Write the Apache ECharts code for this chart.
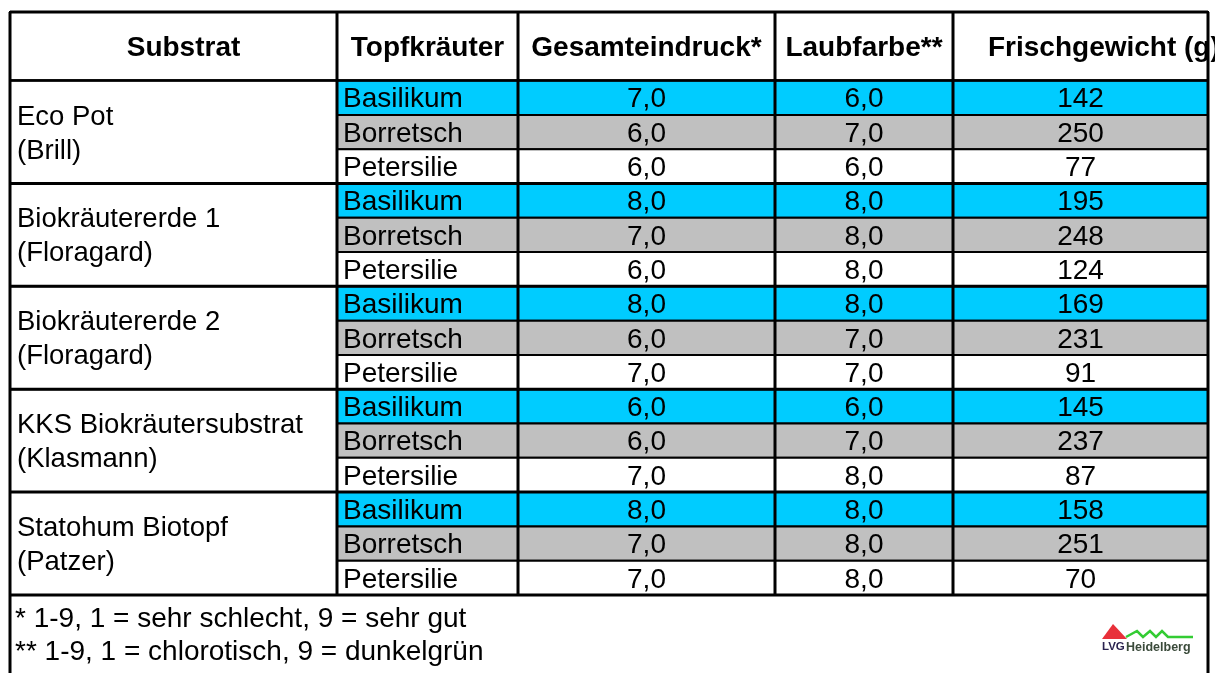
<!DOCTYPE html>
<html>
<head>
<meta charset="utf-8">
<script src="https://cdn.jsdelivr.net/npm/echarts@6/dist/echarts.min.js"></script>
<style>
html, body { margin: 0; padding: 0; background: #fff; }
#main { width: 1215px; height: 673px; }
</style>
</head>
<body>
<div id="main"></div>
<script>
// Tabellendaten
var headers = ['Substrat', 'Topfkräuter', 'Gesamteindruck*', 'Laubfarbe**', 'Frischgewicht (g)'];
var substrates = ['Eco Pot\n(Brill)', 'Biokräutererde 1\n(Floragard)', 'Biokräutererde 2\n(Floragard)', 'KKS Biokräutersubstrat\n(Klasmann)', 'Statohum Biotopf\n(Patzer)'];
var herbs = ['Basilikum', 'Borretsch', 'Petersilie'];
var gesamteindruck = [7, 6, 6, 8, 7, 6, 8, 6, 7, 6, 6, 7, 8, 7, 7];
var laubfarbe = [6, 7, 6, 8, 8, 8, 8, 7, 7, 6, 7, 8, 8, 8, 8];
var frischgewicht = [142, 250, 77, 195, 248, 124, 169, 231, 91, 145, 237, 87, 158, 251, 70];
var footnotes = ['* 1-9, 1 = sehr schlecht, 9 = sehr gut', '** 1-9, 1 = chlorotisch, 9 = dunkelgrün'];

// Layout
var COL_EDGES = [0, 327, 508, 765, 943, 1198];
var HEAD_SHIFT = [10, 0, 0, 0, 0];
var HEAD_ROWS = 2;
var TOTAL_ROWS = 17;
var FOOT_ROWS = [17.72, 18.68];
var ROW_FILL = ['#00CCFF', '#C0C0C0', '#FFFFFF'];
var FONT = '"Liberation Sans", Arial, sans-serif';

function fmt(v) {
    return v.toFixed(1).replace('.', ',');
}

// Zellen aufbauen
var cells = [];
headers.forEach(function (h, c) {
    cells.push({c: c, r: 0, span: HEAD_ROWS, text: h, type: 'head'});
});
substrates.forEach(function (s, g) {
    cells.push({c: 0, r: HEAD_ROWS + g * 3, span: 3, text: s, type: 'sub'});
});
gesamteindruck.forEach(function (v, i) {
    var r = HEAD_ROWS + i;
    var herb = i % 3;
    cells.push({c: 1, r: r, span: 1, text: herbs[herb], type: 'herb', herb: herb});
    cells.push({c: 2, r: r, span: 1, text: fmt(v), type: 'num', herb: herb});
    cells.push({c: 3, r: r, span: 1, text: fmt(laubfarbe[i]), type: 'num', herb: herb});
    cells.push({c: 4, r: r, span: 1, text: String(frischgewicht[i]), type: 'num', herb: herb});
});
footnotes.forEach(function (f, i) {
    cells.push({c: 0, r: FOOT_ROWS[i], span: 0, text: f, type: 'foot'});
});

var chart = echarts.init(document.getElementById('main'));

function renderCell(params, api) {
    var cell = cells[params.dataIndex];
    var p0 = api.coord([COL_EDGES[cell.c], cell.r]);
    var p1 = api.coord([COL_EDGES[cell.c + 1], cell.r + cell.span]);
    var children = [];
    if (cell.type === 'foot') {
        children.push({
            type: 'text', x: p0[0] + 5, y: p0[1],
            style: {text: cell.text, fontSize: 28, fontFamily: FONT, fill: '#000', align: 'left', verticalAlign: 'middle'}
        });
        return {type: 'group', children: children};
    }
    var fill = cell.herb != null ? ROW_FILL[cell.herb] : '#fff';
    children.push({
        type: 'rect',
        shape: {x: p0[0], y: p0[1], width: p1[0] - p0[0], height: p1[1] - p0[1]},
        style: {fill: fill, stroke: '#000', lineWidth: 2}
    });
    var midY = (p0[1] + p1[1]) / 2;
    var t = {text: cell.text, fontSize: 28, fontFamily: FONT, fill: '#000', verticalAlign: 'middle'};
    var x, y = midY;
    if (cell.type === 'head') {
        t.fontWeight = 'bold';
        if (cell.c === 4) {
            t.align = 'left';
            x = p0[0] + 35;
        } else {
            t.align = 'center';
            x = (p0[0] + p1[0]) / 2 + HEAD_SHIFT[cell.c];
        }
        y = midY + 1.5;
    } else if (cell.type === 'sub') {
        t.align = 'left';
        t.fontSize = 27.5;
        t.lineHeight = 34;
        x = p0[0] + 7;
        y = midY + 2;
    } else if (cell.type === 'herb') {
        t.align = 'left';
        x = p0[0] + 6;
        y = midY + 2;
    } else {
        t.align = 'center';
        x = (p0[0] + p1[0]) / 2;
        y = midY + 2;
    }
    children.push({type: 'text', x: x, y: y, style: t});
    return {type: 'group', children: children};
}

function renderFrame(params, api) {
    var children = [];
    var right = COL_EDGES[COL_EDGES.length - 1];
    function line(x0, y0, x1, y1, w) {
        var a = api.coord([x0, y0]);
        var b = api.coord([x1, y1]);
        children.push({
            type: 'line',
            shape: {x1: a[0], y1: a[1], x2: b[0], y2: b[1]},
            style: {stroke: '#000', lineWidth: w}
        });
    }
    // Außenrahmen
    line(0, 0, right, 0, 3);
    line(0, 0, 0, 19.8, 3);
    line(right, 0, right, 19.8, 3);
    // Kopfzeile
    line(0, HEAD_ROWS, right, HEAD_ROWS, 2.5);
    // Gruppen
    for (var g = 1; g <= substrates.length; g++) {
        line(0, HEAD_ROWS + g * 3, right, HEAD_ROWS + g * 3, 3);
    }
    // Spalten
    for (var c = 1; c < COL_EDGES.length - 1; c++) {
        line(COL_EDGES[c], 0, COL_EDGES[c], TOTAL_ROWS, 3);
    }
    return {type: 'group', children: children};
}

chart.setOption({
    animation: false,
    grid: {
        left: 10,
        top: 12,
        width: 1198,
        height: 583
    },
    xAxis: {
        type: 'value',
        min: 0,
        max: 1198,
        show: false
    },
    yAxis: {
        type: 'value',
        min: 0,
        max: TOTAL_ROWS,
        inverse: true,
        show: false
    },
    // Logo LVG Heidelberg
    graphic: [
        {
            type: 'polygon',
            shape: {points: [[1102, 639], [1113, 624], [1127, 639]]},
            style: {fill: '#e8303a'}
        },
        {
            type: 'polyline',
            shape: {points: [[1126, 637], [1137, 631], [1143, 637], [1150, 631], [1156, 637], [1162, 631], [1168, 637], [1193, 637]]},
            style: {stroke: '#33cc33', lineWidth: 2.5, fill: null}
        },
        {
            type: 'text', x: 1102, y: 641,
            style: {text: 'LVG', font: 'bold 11.5px ' + FONT, fill: '#2a2350'}
        },
        {
            type: 'text', x: 1126, y: 641,
            style: {text: 'Heidelberg', font: 'bold 12.5px ' + FONT, fill: '#3a4a3a'}
        }
    ],
    series: [
        {
            type: 'custom',
            renderItem: renderCell,
            data: cells.map(function (cell) { return [COL_EDGES[cell.c], cell.r]; }),
            silent: true,
            z: 2
        },
        {
            type: 'custom',
            renderItem: renderFrame,
            data: [[0, 0]],
            silent: true,
            z: 3
        }
    ]
});
</script>
</body>
</html>
